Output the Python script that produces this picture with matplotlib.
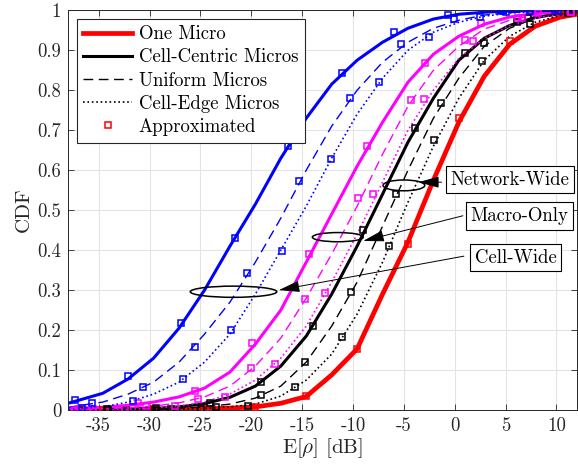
import matplotlib
matplotlib.use('Agg')
import matplotlib.pyplot as plt
from matplotlib.patches import Ellipse

plt.rcParams['font.family'] = 'cmr10'
plt.rcParams['mathtext.fontset'] = 'cm'
plt.rcParams['axes.unicode_minus'] = False

# E[rho] in dB, grid shared by all simulated curves
rho_db = [-38, -34.6, -32.1, -29.6, -27.1, -24.6, -22.1, -19.6, -17.1, -14.6, -12.1,
          -9.6, -7.1, -4.6, -2.1, 0.4, 2.9, 5.4, 7.9, 10.4, 12]

# simulated CDFs
red_one = [0.0002, 0.0005, 0.001, 0.0015, 0.002, 0.003, 0.005, 0.008, 0.017, 0.034, 0.088,
           0.153, 0.29, 0.42, 0.575, 0.72, 0.835, 0.915, 0.96, 0.983, 0.99]
blk_centric = [0.0005, 0.001, 0.002, 0.004, 0.008, 0.016, 0.032, 0.06, 0.11, 0.185, 0.29,
               0.41, 0.54, 0.67, 0.78, 0.875, 0.93, 0.962, 0.982, 0.992, 0.996]
blk_uniform = [0.0002, 0.0005, 0.001, 0.002, 0.004, 0.008, 0.015, 0.03, 0.06, 0.12, 0.21,
               0.32, 0.46, 0.6, 0.73, 0.83, 0.91, 0.955, 0.98, 0.99, 0.995]
blk_edge = [0.0001, 0.0002, 0.0004, 0.001, 0.002, 0.004, 0.008, 0.015, 0.035, 0.075, 0.14,
            0.24, 0.37, 0.52, 0.66, 0.78, 0.875, 0.935, 0.97, 0.987, 0.993]
mag_centric = [0.004, 0.007, 0.012, 0.02, 0.033, 0.055, 0.095, 0.165, 0.25, 0.37, 0.49,
               0.61, 0.72, 0.82, 0.89, 0.935, 0.965, 0.983, 0.992, 0.997, 0.999]
mag_uniform = [0.001, 0.003, 0.006, 0.01, 0.018, 0.033, 0.06, 0.11, 0.18, 0.28, 0.39,
               0.51, 0.64, 0.76, 0.85, 0.91, 0.953, 0.975, 0.988, 0.995, 0.998]
mag_edge = [0.0005, 0.001, 0.002, 0.005, 0.01, 0.02, 0.04, 0.075, 0.13, 0.21, 0.32,
            0.44, 0.57, 0.70, 0.80, 0.88, 0.93, 0.962, 0.98, 0.99, 0.995]
blu_centric = [0.017, 0.042, 0.078, 0.13, 0.205, 0.3, 0.41, 0.515, 0.63, 0.73, 0.815,
               0.875, 0.92, 0.955, 0.978, 0.99, 0.995, 0.998, 0.999, 1.0, 1.0]
blu_uniform = [0.007, 0.02, 0.04, 0.07, 0.12, 0.19, 0.27, 0.37, 0.48, 0.6, 0.71,
               0.8, 0.87, 0.92, 0.955, 0.975, 0.988, 0.994, 0.997, 0.999, 1.0]
blu_edge = [0.002, 0.008, 0.02, 0.04, 0.07, 0.12, 0.19, 0.29, 0.4, 0.51, 0.63,
            0.74, 0.83, 0.9, 0.945, 0.97, 0.985, 0.993, 0.997, 0.999, 1.0]

# approximations (square markers)
red_sq_x = [-34.6, -29.6, -24.6, -19.6, -14.6, -9.6, -4.6, 0.4, 5.4, 10.4]
red_sq_y = [0.0005, 0.0015, 0.003, 0.007, 0.034, 0.153, 0.416, 0.73, 0.922, 0.987]
bc_sq_x = [-34.2, -29.4, -24.1, -19.0, -13.9, -9.0, -3.9, 1.05, 6.1, 11.1]
bc_sq_y = [0.002, 0.004, 0.018, 0.071, 0.211, 0.45, 0.706, 0.892, 0.97, 0.993]
bu_sq_x = [-36.7, -32.3, -27.9, -23.5, -19.0, -14.7, -10.2, -5.8, -1.4, 2.85, 7.2, 11.5]
bu_sq_y = [0.001, 0.001, 0.003, 0.008, 0.038, 0.121, 0.295, 0.54, 0.767, 0.917, 0.98, 0.995]
be_sq_x = [-34.1, -29.5, -24.9, -20.3, -15.7, -11.1, -6.5, -2.0, 2.7, 7.4]
be_sq_y = [0.0, 0.001, 0.002, 0.01, 0.057, 0.182, 0.41, 0.675, 0.873, 0.966]
mc_sq_x = [-36.7, -31.1, -25.5, -19.9, -14.3, -8.6, -2.95, 2.6, 8.2]
mc_sq_y = [0.006, 0.018, 0.048, 0.167, 0.39, 0.66, 0.867, 0.967, 0.993]
mu_sq_x = [-35.6, -30.4, -25.2, -20.0, -14.7, -9.5, -4.3, 1.0, 6.2, 11.4]
mu_sq_y = [0.003, 0.009, 0.027, 0.104, 0.278, 0.53, 0.775, 0.925, 0.98, 0.996]
me_sq_x = [-37.3, -32.4, -27.5, -22.6, -17.7, -12.8, -8.0, -3.0, 1.8, 6.6, 11.4]
me_sq_y = [0.001, 0.002, 0.01, 0.032, 0.115, 0.292, 0.541, 0.777, 0.923, 0.98, 0.995]
lc_sq_x = [-37.3, -32.1, -26.9, -21.65, -16.4, -11.1, -6.0, -0.7, 4.6, 9.9]
lc_sq_y = [0.025, 0.086, 0.219, 0.43, 0.66, 0.844, 0.946, 0.988, 0.998, 1.0]
lu_sq_x = [-35.7, -30.6, -25.5, -20.4, -15.3, -10.3, -5.3, -0.1, 5.0, 10.1]
lu_sq_y = [0.018, 0.057, 0.159, 0.343, 0.572, 0.78, 0.915, 0.977, 0.995, 0.999]
le_sq_x = [-36.6, -31.6, -26.7, -22.0, -17.0, -12.2, -7.4, -2.5, 2.5, 7.4]
le_sq_y = [0.005, 0.023, 0.077, 0.2, 0.397, 0.628, 0.82, 0.934, 0.984, 0.997]

x_ticks = [-35, -30, -25, -20, -15, -10, -5, 0, 5, 10]
y_ticks = [0, 0.1, 0.2, 0.3, 0.4, 0.5, 0.6, 0.7, 0.8, 0.9, 1]
y_ticklabels = ['0', '0.1', '0.2', '0.3', '0.4', '0.5', '0.6', '0.7', '0.8', '0.9', '1']

fig = plt.figure(figsize=(5.78, 4.66), dpi=100)
ax = fig.add_axes([0.118, 0.120, 0.880, 0.858])

dash = (0, (7, 4))
sq = dict(marker='s', ls='none', ms=5, mew=1.1, mfc='none', zorder=5)

ax.plot(rho_db, red_one, color='red', lw=3.4, label='One Micro')
ax.plot(rho_db, blk_centric, color='black', lw=2.2, label='Cell-Centric Micros')
ax.plot(rho_db, blk_uniform, color='black', lw=1.0, ls=dash, label='Uniform Micros')
ax.plot(rho_db, blk_edge, color='black', lw=1.2, ls=':', label='Cell-Edge Micros')
ax.plot(red_sq_x, red_sq_y, mec='red', label='Approximated', **sq)

ax.plot(rho_db, mag_centric, color='magenta', lw=2.2)
ax.plot(rho_db, mag_uniform, color='magenta', lw=1.0, ls=dash)
ax.plot(rho_db, mag_edge, color='magenta', lw=1.2, ls=':')
ax.plot(rho_db, blu_centric, color='blue', lw=2.2)
ax.plot(rho_db, blu_uniform, color='blue', lw=1.0, ls=dash)
ax.plot(rho_db, blu_edge, color='blue', lw=1.2, ls=':')

ax.plot(bc_sq_x, bc_sq_y, mec='black', **sq)
ax.plot(bu_sq_x, bu_sq_y, mec='black', **sq)
ax.plot(be_sq_x, be_sq_y, mec='black', **sq)
ax.plot(mc_sq_x, mc_sq_y, mec='magenta', **sq)
ax.plot(mu_sq_x, mu_sq_y, mec='magenta', **sq)
ax.plot(me_sq_x, me_sq_y, mec='magenta', **sq)
ax.plot(lc_sq_x, lc_sq_y, mec='blue', **sq)
ax.plot(lu_sq_x, lu_sq_y, mec='blue', **sq)
ax.plot(le_sq_x, le_sq_y, mec='blue', **sq)

# ellipses + labels
for c, w, h in [((-5.0, 0.562), 4.1, 0.027), ((-11.5, 0.4325), 5.0, 0.023),
                ((-21.75, 0.296), 8.5, 0.028)]:
    ax.add_patch(Ellipse(c, w, h, fill=False, ec='black', lw=1.1, zorder=6))

box = dict(boxstyle='square,pad=0.25', fc='white', ec='black', lw=0.8)
arr = dict(arrowstyle='-|>,head_length=1.3,head_width=0.35', color='black', lw=0.7,
           mutation_scale=10, shrinkA=0, shrinkB=0)
ax.annotate('', xy=(-3.6, 0.57), xytext=(-1.3, 0.57), arrowprops=arr, zorder=7)
ax.annotate('', xy=(-9.0, 0.423), xytext=(0.8, 0.486), arrowprops=arr, zorder=7)
ax.annotate('', xy=(-17.3, 0.30), xytext=(0.9, 0.385), arrowprops=arr, zorder=7)
ax.text(5.4, 0.576, 'Network-Wide', fontsize=13.5, ha='center', va='center', bbox=box, zorder=8)
ax.text(6.35, 0.485, 'Macro-Only', fontsize=13.5, ha='center', va='center', bbox=box, zorder=8)
ax.text(6.0, 0.381, 'Cell-Wide', fontsize=13.5, ha='center', va='center', bbox=box, zorder=8)

ax.set_xlim(-38, 12)
ax.set_ylim(0, 1)
ax.set_xticks(x_ticks)
ax.set_yticks(y_ticks, y_ticklabels)
ax.tick_params(direction='in', top=True, right=True, labelsize=13.5, length=4, width=0.6,
               colors='#262626', pad=5)
for s in ax.spines.values():
    s.set_linewidth(0.7)
    s.set_color('#262626')
ax.grid(True, color='#e3e3e3', lw=0.8)
ax.set_axisbelow(True)

ax.set_xlabel(r'E$[\rho]$ [dB]', fontsize=15, color='#262626', labelpad=1)
ax.set_ylabel('CDF', fontsize=15, color='#262626', labelpad=3)

leg = ax.legend(loc='upper left', fontsize=13.5, handlelength=2.6, handletextpad=0.35,
                labelspacing=0.28, borderpad=0.35, borderaxespad=0.45, fancybox=False,
                framealpha=1, edgecolor='#262626')
leg.get_frame().set_linewidth(0.8)

fig.savefig('out.png', dpi=100)
